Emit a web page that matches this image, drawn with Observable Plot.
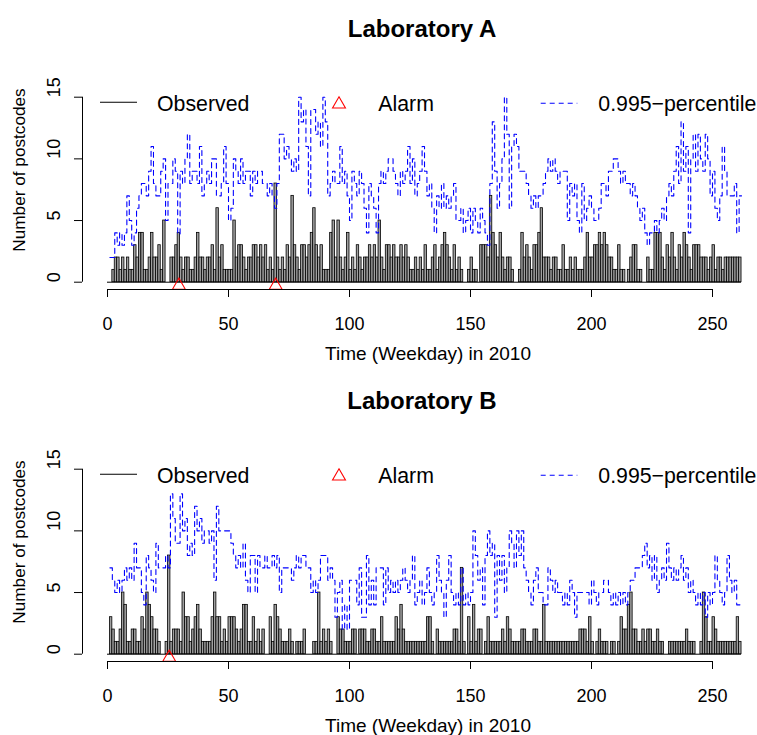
<!DOCTYPE html>
<html>
<head>
<meta charset="utf-8">
<script src="https://cdn.jsdelivr.net/npm/d3@7"></script>
<script src="https://cdn.jsdelivr.net/npm/@observablehq/plot@0.6"></script>
<style>
  body { margin: 0; background: #fff; }
  #chart { width: 757px; height: 735px; background: #fff; }
  #chart svg { display: block; }
</style>
</head>
<body>
<div id="chart"></div>
<script>
// ---- data (weekday index 1..261 of 2010) ----
const days = d3.range(1, 262);

const obsA = [
  0,1,2,2,1,2,1,2,1,1, 3,2,4,4,1,1,2,4,2,2, 3,1,5,0,0,2,2,3,4,2, 1,2,2,1,1,2,4,2,2,1,
  2,2,3,1,6,2,3,1,1,1, 1,5,2,3,3,2,1,2,2,3, 3,2,3,2,3,1,2,1,8,2, 1,2,1,3,2,7,3,2,1,3,
  3,2,3,4,6,3,2,3,1,1, 1,4,5,2,5,2,1,2,4,1, 2,1,3,2,1,2,2,3,2,3, 2,5,2,1,3,3,2,3,2,2,
  3,2,3,2,1,1,2,1,2,1, 3,1,1,2,3,1,2,3,4,3, 2,1,3,1,2,1,0,0,1,2, 1,1,0,3,3,3,2,7,4,3,
  2,4,2,1,2,2,1,0,0,1, 4,2,3,2,1,3,3,4,6,2, 2,2,1,2,2,1,1,3,1,1, 2,1,2,1,1,1,2,4,2,2,
  3,3,4,3,4,3,2,2,1,1, 3,1,1,0,1,2,3,3,1,1, 0,0,2,1,1,4,4,4,2,1, 3,2,4,2,1,3,2,4,3,2,
  1,3,3,3,2,2,2,1,2,3, 1,2,2,1,2,2,2,2,2,2,2
];
const pctA = [
  2,2,4,3,4,3,4,7,5,3, 4,6,7,8,8,7,9,11,8,7, 7,9,10,5,8,8,10,9,3.9,9, 8,10,12,8,9,9,8,11,7,8,
  9,8,10,10,7,7,8,11,8,5, 6,10,9,8,10,8,9,9,7,9, 8,9,9,8,8,7,8,7,6,8, 12,12,10,11,10,9,10,9,15,13,
  14,11,7,14,14,12,13,11,15,13, 7,8,9,8,8,11,8,9,7,5, 9,8,7,9,8,6,4,8,7,6, 4,8,9,8,9,10,10,9,8,7,
  9,8,9,11,8,10,7,8,9,11, 9,7,8,6,4,7,6,8,6,7, 6,7,8,5,5,6,4,5,6,4, 6,5,4,6,5,4,3,8,13,9,
  6,8,10,15,12,6,11,12,11,9, 9,9,8,7,6,7,6,7,7,8, 9,10,9,10,9,8,9,9,9,5, 8,7,8,5,4,8,5,6,7,6,
  5,5,6,8,8,7,9,9,10,10, 9,8,9,8,8,7,8,7,6,5, 6,4,3,4,4,5,4,5,6,5, 7,8,7,9,11,8,13,9,11,4,
  10,12,9,12,10,9,12,10,7,9, 6,5,7,11,9,7,7,7,8,4,7
];
const obsB = [
  3,2,1,1,2,5,4,1,1,2, 2,1,1,3,2,5,4,3,2,2, 1,0,0,1,8,1,2,2,2,1, 5,3,3,1,2,3,4,2,1,1,
  1,1,3,5,3,3,1,2,1,3, 3,3,2,1,2,4,4,1,1,3, 1,2,1,2,0,0,3,1,4,3, 2,1,1,1,2,1,0,1,1,1,
  2,0,0,0,1,1,5,1,2,1, 2,1,0,0,3,2,2,1,1,1, 2,2,0,2,2,2,1,1,2,2, 1,1,3,1,1,1,1,1,3,2,
  4,2,1,1,1,1,1,1,1,1, 1,3,3,1,0,2,1,1,1,1, 1,1,2,2,1,7,1,0,3,1, 4,1,2,2,0,1,3,1,1,1,
  1,1,2,1,3,2,1,1,1,1, 2,2,1,1,1,2,2,1,1,4, 1,1,1,1,1,1,1,1,1,1, 1,1,1,1,2,2,2,1,3,1,
  0,1,2,1,1,1,0,1,1,0, 1,3,2,2,4,5,2,2,1,1, 2,1,2,2,1,1,2,1,1,0, 0,1,1,1,1,1,1,1,2,1,
  1,1,0,0,1,5,3,1,1,3, 2,1,1,1,1,1,1,1,1,3,1
];
const pctB = [
  7,6,5,6,5,6,7,6,7,6, 9,7,7,5,4,8,7,6,5,9, 7,7,7,8,7,13,11,9,9,13, 10,11,8,9,8,12,10,11,9,10,
  10,9,10,6,12,10,10,10,10,10, 9,8,7,8,7,9,6,5,8,8, 5,8,7,7,8,7,7,8,7,8, 5,7,7,7,7,6,7,8,7,8,
  8,7,7,5,6,5,6,8,8,8, 6,7,6,3,5,6,2,4,2,6, 6,6,4,7,3,3,8,4,6,4, 7,7,7,4,7,5,6,5,6,5,
  6,7,6,5,6,8,4,5,6,4, 5,7,5,4,5,8,6,5,3,6, 8,5,4,5,4,7,4,5,4,5, 10,8,6,7,4,8,10,8,9,3,
  8,6,8,5,7,10,9,7,10,8, 10,7,6,5,4,6,7,5,5,4, 4,7,6,5,6,5,5,4,5,4, 6,5,3,5,5,5,5,5,4,6,
  5,4,5,5,6,6,5,4,5,4, 5,4,5,4,5,6,6,7,7,7, 8,9,7,8,6,8,5,6,7,6, 9,7,6,7,6,7,8,6,7,5,
  6,5,4,5,4,5,3,5,4,5, 8,6,5,4,5,8,6,5,6,4,4
];
const alarmsA = [29, 69];
const alarmsB = [25];

const xTicks = [0, 50, 100, 150, 200, 250];
const yTicks = [0, 5, 10, 15];
const titles = ["Laboratory A", "Laboratory B"];
const legendLabels = ["Observed", "Alarm", "0.995\u2212percentile"];
const xLabel = "Time (Weekday) in 2010";
const yLabel = "Number of postcodes";

const font = "'Liberation Sans', Arial, Helvetica, sans-serif";

function drawPanel(i, obs, pct, alarms, height) {
  const rows = days.map((t, j) => ({t, obs: obs[j], pct: pct[j]}));
  const last = rows[rows.length - 1];
  const steps = rows.concat([{t: last.t + 1, pct: last.pct}]);

  const svg = Plot.plot({
    width: 757,
    height,
    marginLeft: 107,
    marginRight: 45,
    marginTop: 96.7,
    marginBottom: height - 281.7,
    x: {domain: [0, 250], axis: null},
    y: {domain: [0, 15], axis: null},
    style: {fontFamily: font, background: "white", color: "black"},
    marks: [
      Plot.ruleY([0], {x1: days[0] - 1, x2: last.t + 1, stroke: "black", strokeWidth: 1}),
      Plot.rectY(rows.filter(d => d.obs > 0), {
        x1: "t", x2: d => d.t + 1, y: "obs",
        fill: "#a0a0a0", stroke: "black", strokeWidth: 0.8
      }),
      Plot.line(steps, {
        x: "t", y: "pct", curve: "step-after",
        stroke: "#0000ff", strokeWidth: 1.1, strokeDasharray: "5,4"
      }),
      Plot.dot(alarms, {
        x: d => d + 0.5, y: () => 0, dy: 3.4, symbol: "triangle", r: 4.8,
        stroke: "#ff0000", fill: "none", strokeWidth: 1.1
      }),
      // y axis (R style, offset from the plotting region)
      Plot.ruleX([0], {y1: yTicks[0], y2: yTicks[yTicks.length - 1], dx: -25, stroke: "black"}),
      Plot.axisY({ticks: yTicks, tickSize: 8, dx: -25, tickFormat: () => "", label: null}),
      Plot.text(yTicks, {
        y: d => d, text: d => String(d), frameAnchor: "left", dx: -53,
        rotate: -90, fontSize: 18, fill: "black"
      }),
      // x axis
      Plot.ruleY([0], {x1: xTicks[0], x2: xTicks[xTicks.length - 1], dy: 7.3, stroke: "black"}),
      Plot.axisX({ticks: xTicks, tickSize: 8, dy: 7.3, tickPadding: 19.5, fontSize: 18, label: null})
    ]
  });

  const g = d3.select(svg).append("g")
    .attr("font-family", font).attr("fill", "black").attr("text-anchor", "start");
  // title
  g.append("text").attr("x", 422).attr("y", 36.5).attr("text-anchor", "middle")
    .attr("font-size", 24).attr("font-weight", "bold").text(titles[i]);
  // legend
  g.append("line").attr("x1", 100).attr("x2", 137).attr("y1", 102.3).attr("y2", 102.3)
    .attr("stroke", "black").attr("stroke-width", 1.1);
  g.append("text").attr("x", 157).attr("y", 111).attr("font-size", 21.3)
    .attr("text-anchor", "start").text(legendLabels[0]);
  g.append("path").attr("d", d3.symbol(d3.symbolTriangle, Math.PI * 4.8 * 4.8)())
    .attr("transform", "translate(339,104.3)").attr("fill", "none")
    .attr("stroke", "#ff0000").attr("stroke-width", 1.1);
  g.append("text").attr("x", 378.3).attr("y", 111).attr("font-size", 21.3)
    .attr("text-anchor", "start").text(legendLabels[1]);
  g.append("line").attr("x1", 540.7).attr("x2", 577.3).attr("y1", 103.3).attr("y2", 103.3)
    .attr("stroke", "#0000ff").attr("stroke-width", 1.1).attr("stroke-dasharray", "5,4");
  g.append("text").attr("x", 598.3).attr("y", 111).attr("font-size", 21.3)
    .attr("text-anchor", "start").text(legendLabels[2]);
  // axis labels
  g.append("text").attr("x", 428).attr("y", 359.5).attr("text-anchor", "middle")
    .attr("font-size", 19).text(xLabel);
  g.append("text").attr("transform", "translate(24.5,170) rotate(-90)").attr("text-anchor", "middle")
    .attr("font-size", 17.2).text(yLabel);

  document.getElementById("chart").appendChild(svg);
}

drawPanel(0, obsA, pctA, alarmsA, 372);
drawPanel(1, obsB, pctB, alarmsB, 363);
</script>
</body>
</html>
